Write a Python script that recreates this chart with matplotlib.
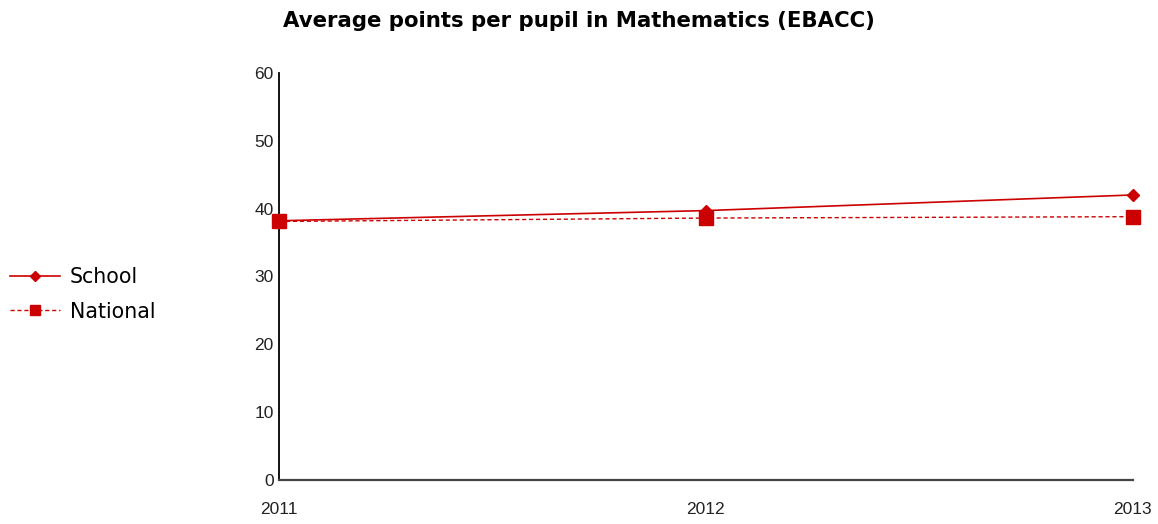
import matplotlib
matplotlib.use("Agg")
import matplotlib.pyplot as plt
from matplotlib.lines import Line2D

years = [2011, 2012, 2013]
school = [38.2, 39.7, 42.0]
national = [38.1, 38.6, 38.8]
yticks = [0, 10, 20, 30, 40, 50, 60]
title = "Average points per pupil in Mathematics (EBACC)"
red = "#CC0000"

fig = plt.figure(figsize=(11.58, 5.24), dpi=100)
ax = fig.add_axes([0.241, 0.084, 0.737, 0.777])

ax.plot(years, school, color=red, lw=1.2, marker="D", ms=6.5, label="School", zorder=3, clip_on=False)
ax.plot(years, national, color=red, lw=1.0, ls=(0, (3, 2)), marker="s", ms=9.5, label="National",
        zorder=4, clip_on=False)

ax.set_xlim(2011, 2013)
ax.set_ylim(0, 60)
ax.set_yticks(yticks)
ax.set_xticks(years)
ax.set_xticklabels([str(y) for y in years])
for s in ["top", "right"]:
    ax.spines[s].set_visible(False)
ax.spines["left"].set_color("black")
ax.spines["left"].set_linewidth(1.3)
ax.spines["bottom"].set_color("#444444")
ax.spines["bottom"].set_linewidth(1.6)
ax.tick_params(axis="both", length=0, labelsize=12.5, labelcolor="#222222")
ax.tick_params(axis="y", pad=4)
ax.tick_params(axis="x", pad=16)
for lab in ax.get_xticklabels() + ax.get_yticklabels():
    lab.set_family("Liberation Sans")

fig.text(0.5, 0.96, title, ha="center", va="center", fontsize=15.3, fontweight="bold", family="DejaVu Sans")

handles = [Line2D([], [], color=red, lw=1.2, marker="D", ms=5.5),
           Line2D([], [], color=red, lw=1.0, ls=(0, (3, 2)), marker="s", ms=7)]
fig.legend(handles, ["School", "National"], loc="center left", bbox_to_anchor=(0.0, 0.438),
           frameon=False, handlelength=2.4, handletextpad=0.5, labelspacing=0.7,
           borderaxespad=0.1, borderpad=0.4,
           prop={"family": "DejaVu Sans", "size": 14.8})

fig.savefig("out.png", dpi=100)
